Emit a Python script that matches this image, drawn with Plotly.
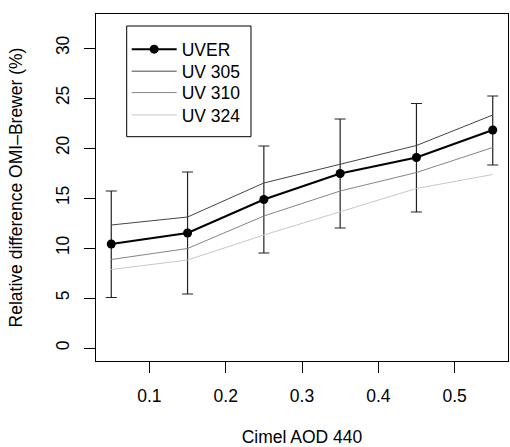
import plotly.graph_objects as go

aod = [0.05, 0.15, 0.25, 0.35, 0.45, 0.55]
uver = [10.4, 11.5, 14.85, 17.45, 19.05, 21.8]
uver_hi = [15.7, 17.6, 20.2, 22.9, 24.45, 25.2]
uver_lo = [5.05, 5.4, 9.5, 12.0, 13.6, 18.3]
uv305 = [12.3, 13.1, 16.5, 18.4, 20.25, 23.3]
uv310 = [8.85, 9.95, 13.2, 15.7, 17.55, 20.05]
uv324 = [7.85, 8.8, 11.3, 13.6, 15.95, 17.35]

x_ticks = [0.1, 0.2, 0.3, 0.4, 0.5]
y_ticks = [0, 5, 10, 15, 20, 25, 30]

err_plus = [h - v for h, v in zip(uver_hi, uver)]
err_minus = [v - l for v, l in zip(uver, uver_lo)]

FONT = "Liberation Sans, Arial, Helvetica, sans-serif"
FS = 17.5

fig = go.Figure()
fig.add_trace(go.Scatter(
    x=aod, y=uver, name="UVER", mode="lines+markers", legend="legend",
    line=dict(color="black", width=2),
    marker=dict(color="black", size=9),
    error_y=dict(type="data", symmetric=False, array=err_plus, arrayminus=err_minus,
                 color="#222222", thickness=1.2, width=5.5),
))
fig.add_trace(go.Scatter(x=aod, y=uv305, name="UV 305", mode="lines", legend="legend2",
                         line=dict(color="#444444", width=1)))
fig.add_trace(go.Scatter(x=aod, y=uv310, name="UV 310", mode="lines", legend="legend3",
                         line=dict(color="#858585", width=1)))
fig.add_trace(go.Scatter(x=aod, y=uv324, name="UV 324", mode="lines", legend="legend4",
                         line=dict(color="#c8c8c8", width=1)))

leg_common = dict(x=0.0745, xanchor="left", yanchor="middle", borderwidth=0,
                  bgcolor="rgba(0,0,0,0)", font=dict(size=FS), itemwidth=45)

fig.update_layout(
    width=510, height=447,
    margin=dict(l=96, r=2, t=14, b=86),
    paper_bgcolor="white", plot_bgcolor="white",
    font=dict(family=FONT, size=FS, color="black"),
    showlegend=True,
    legend=dict(y=0.8983, **leg_common),
    legend2=dict(y=0.8349, **leg_common),
    legend3=dict(y=0.7732, **leg_common),
    legend4=dict(y=0.7089, **leg_common),
    shapes=[dict(type="rect", xref="paper", yref="paper",
                 x0=0.0745, x1=0.3762, y0=0.6464, y1=0.9654,
                 line=dict(color="black", width=1), fillcolor="rgba(0,0,0,0)", layer="below")],
    xaxis=dict(range=[0.03, 0.57], tickvals=x_ticks, ticktext=[str(t) for t in x_ticks],
               showgrid=False, zeroline=False, showline=True, linecolor="black", linewidth=1,
               mirror=True, ticks="outside", ticklen=11, tickcolor="black",
               ticklabelstandoff=8,
               title=dict(text="Cimel AOD 440", standoff=25, font=dict(size=FS))),
    yaxis=dict(range=[-1.3, 33.4], tickvals=y_ticks, ticktext=[str(t) for t in y_ticks],
               showgrid=False, zeroline=False, showline=True, linecolor="black", linewidth=1,
               mirror=True, ticks="outside", ticklen=11, tickcolor="black",
               tickangle=-90, ticklabelstandoff=8,
               title=dict(text="Relative difference OMI\u2013Brewer (%)", standoff=25,
                          font=dict(size=FS))),
)

fig.write_html("out.html", config={"displayModeBar": False},
               post_script="document.body.style.margin='0';document.body.style.padding='0';")
